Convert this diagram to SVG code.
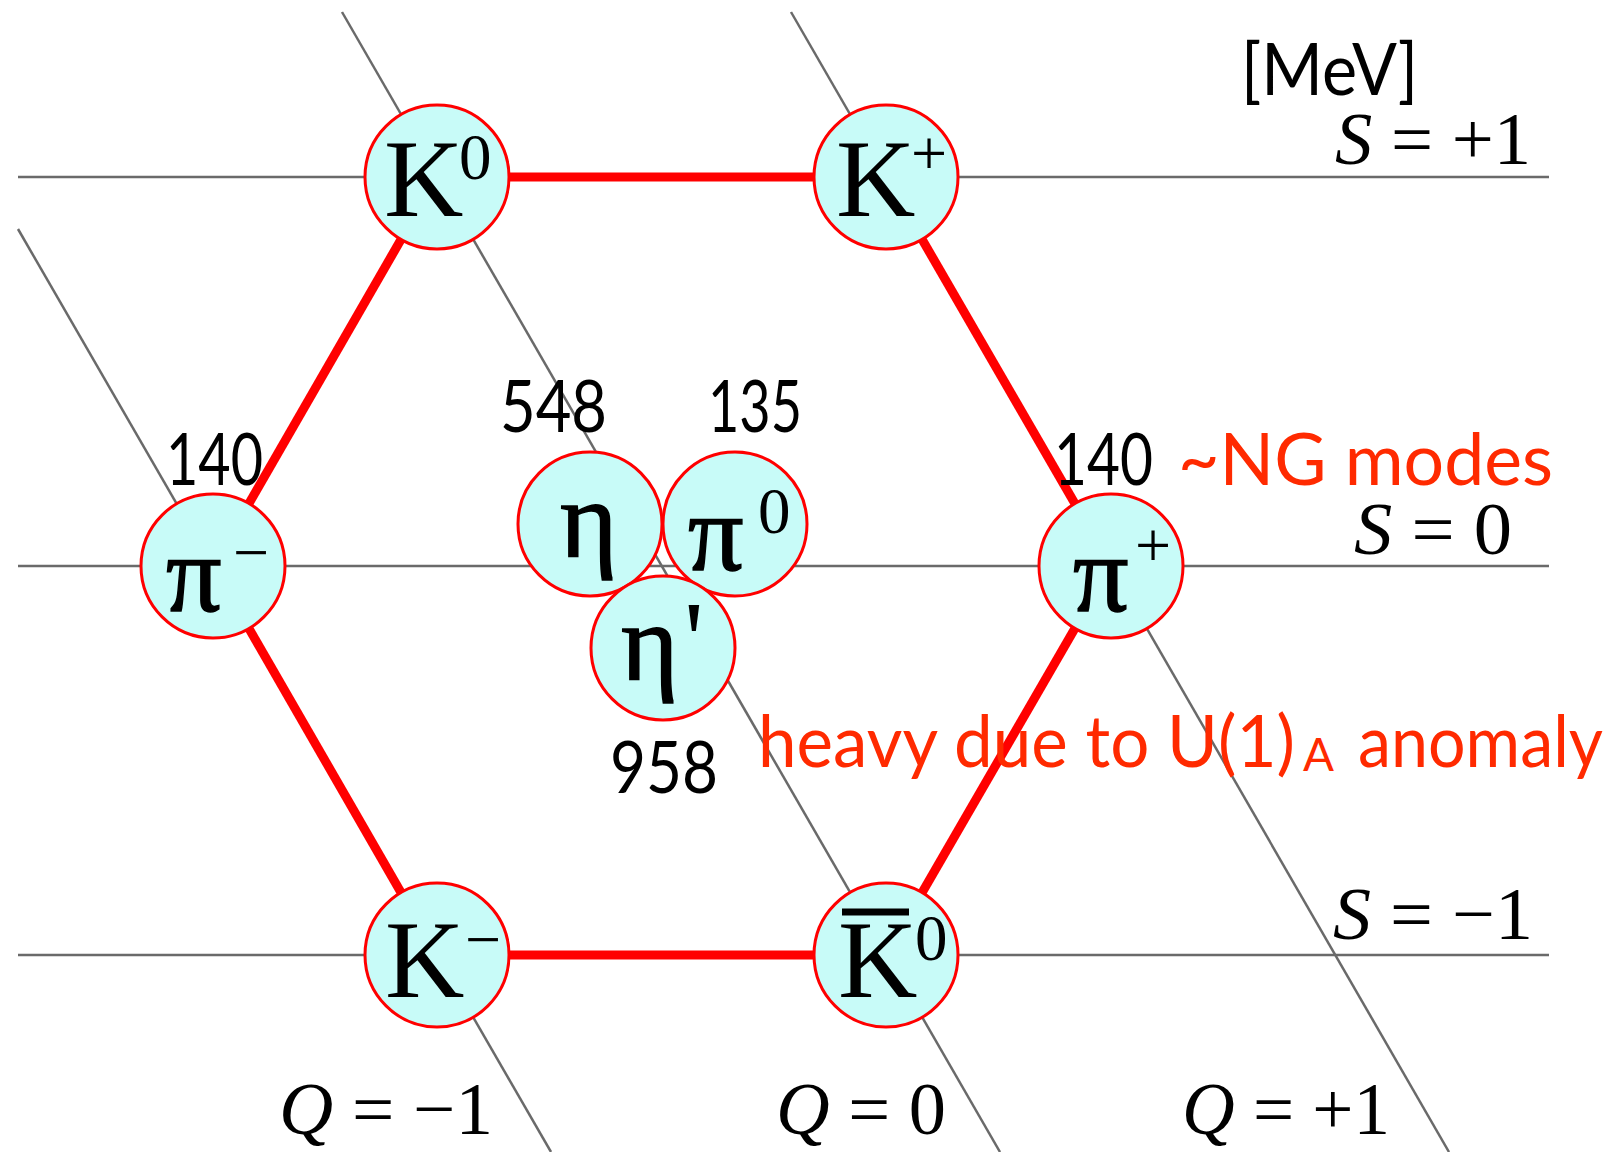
<svg xmlns="http://www.w3.org/2000/svg" width="1613" height="1152" viewBox="0 0 1613 1152">
<style>
.grid{stroke:#6a6a6a;stroke-width:2.5;fill:none}
.edge{stroke:#ff0000;stroke-width:9;fill:none}
.node{fill:#c8fbf8;stroke:#ff0000;stroke-width:3}
.p{font-family:"Liberation Serif","Times New Roman",serif;font-size:110px;fill:#000}
.g{stroke:#000;stroke-width:1.5}
.sup{font-family:"Liberation Serif","Times New Roman",serif;font-size:65px;fill:#000}
.op{font-family:"Liberation Serif","Times New Roman",serif;font-size:64px;fill:#000}
.m{font-family:Lato,"Open Sans",sans-serif;font-size:72px;fill:#000}
.r{font-family:Lato,"Open Sans",sans-serif;font-size:72px;fill:#ff2a00}
.q{font-family:"Liberation Serif","Times New Roman",serif;font-size:74px;fill:#000}
.it{font-style:italic}
</style>
<rect width="1613" height="1152" fill="#fff"/>
<g id="grid">
<line class="grid" x1="18" y1="177" x2="1549" y2="177"/>
<line class="grid" x1="18" y1="566" x2="1549" y2="566"/>
<line class="grid" x1="18" y1="955" x2="1549" y2="955"/>
<line class="grid" x1="342" y1="12" x2="1000" y2="1152"/>
<line class="grid" x1="791" y1="12" x2="1449" y2="1152"/>
<line class="grid" x1="18" y1="229" x2="551" y2="1152"/>
</g>
<g id="connectors">
<line class="edge" x1="437" y1="177" x2="886" y2="177"/>
<line class="edge" x1="886" y1="177" x2="1111" y2="566"/>
<line class="edge" x1="1111" y1="566" x2="886" y2="955"/>
<line class="edge" x1="886" y1="955" x2="437" y2="955"/>
<line class="edge" x1="437" y1="955" x2="213" y2="566"/>
<line class="edge" x1="213" y1="566" x2="437" y2="177"/>
</g>
<g id="K0">
<circle class="node" cx="437" cy="177" r="72"/>
<text class="p" x="384" y="216">K</text>
<text class="sup" x="459" y="179">0</text>
</g>
<g id="Kplus">
<circle class="node" cx="886" cy="177" r="72"/>
<text class="p" x="836" y="216">K</text>
<text class="op" x="911" y="175">+</text>
</g>
<g id="piminus">
<circle class="node" cx="213" cy="566" r="72"/>
<text class="p g" x="166" y="611">π</text>
<text class="op" x="233" y="574">−</text>
</g>
<g id="piplus">
<circle class="node" cx="1111" cy="566" r="72"/>
<text class="p g" x="1073" y="611">π</text>
<text class="op" x="1135" y="567">+</text>
</g>
<g id="Kminus">
<circle class="node" cx="437" cy="955" r="72"/>
<text class="p" x="385" y="997">K</text>
<text class="op" x="465" y="961">−</text>
</g>
<g id="K0bar">
<circle class="node" cx="886" cy="955" r="72"/>
<line x1="842" y1="912" x2="909" y2="912" stroke="#000" stroke-width="7"/>
<text class="p" x="838" y="997">K</text>
<text class="sup" x="915" y="960">0</text>
</g>
<g id="eta">
<circle class="node" cx="590" cy="524" r="72"/>
<text class="p g" x="560" y="557">η</text>
</g>
<g id="pi0">
<circle class="node" cx="735" cy="524" r="72"/>
<text class="p g" x="688" y="570">π</text>
<text class="sup" x="758" y="533">0</text>
</g>
<g id="etaprime">
<circle class="node" cx="663" cy="648" r="72"/>
<text class="p" x="621" y="680"><tspan class="g">η</tspan><tspan x="684" y="677">'</tspan></text>
</g>
<g id="labels">
<text class="m" x="1241" y="95" textLength="177" lengthAdjust="spacingAndGlyphs">[MeV]</text>
<text class="q" x="1335" y="164" textLength="196" lengthAdjust="spacingAndGlyphs"><tspan class="it">S</tspan> = +1</text>
<text class="q" x="1354" y="554" textLength="158" lengthAdjust="spacingAndGlyphs"><tspan class="it">S</tspan> = 0</text>
<text class="q" x="1333" y="939" textLength="200" lengthAdjust="spacingAndGlyphs"><tspan class="it">S</tspan> = −1</text>
<text class="q" x="279" y="1134" textLength="214" lengthAdjust="spacingAndGlyphs"><tspan class="it">Q</tspan> = −1</text>
<text class="q" x="776" y="1134" textLength="170" lengthAdjust="spacingAndGlyphs"><tspan class="it">Q</tspan> = 0</text>
<text class="q" x="1182" y="1134" textLength="208" lengthAdjust="spacingAndGlyphs"><tspan class="it">Q</tspan> = +1</text>
<text class="m" x="166" y="485" textLength="97" lengthAdjust="spacingAndGlyphs">140</text>
<text class="m" x="500" y="432" textLength="107" lengthAdjust="spacingAndGlyphs">548</text>
<text class="m" x="708" y="432" textLength="94" lengthAdjust="spacingAndGlyphs">135</text>
<text class="m" x="610" y="793" textLength="108" lengthAdjust="spacingAndGlyphs">958</text>
<text class="m" x="1054" y="485" textLength="99" lengthAdjust="spacingAndGlyphs">140</text>
<text class="r" x="1178" y="485" textLength="375" lengthAdjust="spacingAndGlyphs">~NG modes</text>
<text class="r" x="758" y="767"><tspan x="758" textLength="537" lengthAdjust="spacingAndGlyphs">heavy due to U(1)</tspan><tspan x="1303" y="771" font-size="46" textLength="31" lengthAdjust="spacingAndGlyphs">A</tspan><tspan x="1358" y="767" textLength="245" lengthAdjust="spacingAndGlyphs">anomaly</tspan></text>
</g>
</svg>
